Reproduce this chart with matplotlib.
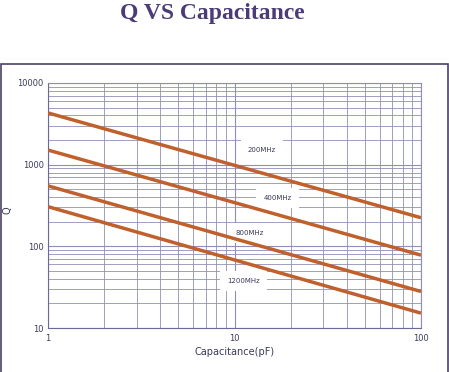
import numpy as np
import matplotlib.pyplot as plt
from matplotlib.patches import Rectangle

# data (straight lines on log-log)
capacitance = [1, 100]
q_200 = [4300, 224]
q_400 = [1510, 78]
q_800 = [550, 28]
q_1200 = [306, 15.2]
series = [q_200, q_400, q_800, q_1200]
labels = ["200MHz", "400MHz", "800MHz", "1200MHz"]
label_pos = [(14, 1510), (17, 390), (12.1, 146), (11.2, 37.6)]

line_col = "#c0602c"
grid_col = "#8f8fb5"
text_col = "#3a3a5a"

fig = plt.figure(figsize=(4.49, 3.72), dpi=100)
W, H = 449, 372

# outer frame
fig.patches.append(Rectangle((0.5 / W, -0.1), 447 / W, (H - 64) / H + 0.1,
                             transform=fig.transFigure, fill=False,
                             edgecolor="#4a3f6b", linewidth=1.2))

fig.text(212 / W, 1 - 13 / H, "Q VS Capacitance", ha="center", va="center",
         fontsize=17, fontweight="bold", family="Liberation Serif", color="#4b3c78")

ax = fig.add_axes([48 / W, 1 - 328 / H, (421 - 48) / W, (328 - 83) / H])
ax.set_xscale("log")
ax.set_yscale("log")
ax.set_xlim(1, 100)
ax.set_ylim(10, 10000)

for q in series:
    ax.plot(capacitance, q, color=line_col, linewidth=2.5, solid_capstyle="butt", zorder=3)

for lab, (x, y) in zip(labels, label_pos):
    ax.text(x, y, lab, fontsize=5, color=text_col, ha="center", va="center", zorder=2,
            bbox=dict(boxstyle="square,pad=1.0", facecolor="white", edgecolor="none"))

ax.grid(True, which="major", color=grid_col, linewidth=0.8)
ax.grid(True, which="minor", color=grid_col, linewidth=0.6)
ax.set_axisbelow(True)
for s in ax.spines.values():
    s.set_color(grid_col)
    s.set_linewidth(0.8)
ax.spines["left"].set_color("#6a6a9a")
ax.spines["bottom"].set_color("#6a6a9a")

ax.set_xticks([1, 10, 100])
ax.set_xticklabels(["1", "10", "100"])
ax.set_yticks([10, 100, 1000, 10000])
ax.set_yticklabels(["10", "100", "1000", "10000"])
ax.tick_params(which="both", length=0, labelsize=6, labelcolor=text_col, pad=3)
ax.tick_params(axis="x", pad=4)
ax.set_xlabel("Capacitance(pF)", fontsize=7, color=text_col, labelpad=3)
ax.set_ylabel("Q", fontsize=7, color=text_col, labelpad=4)
ax.yaxis.set_label_coords(-36 / (421 - 48), 0.48)

fig.savefig("out.png", dpi=100)
